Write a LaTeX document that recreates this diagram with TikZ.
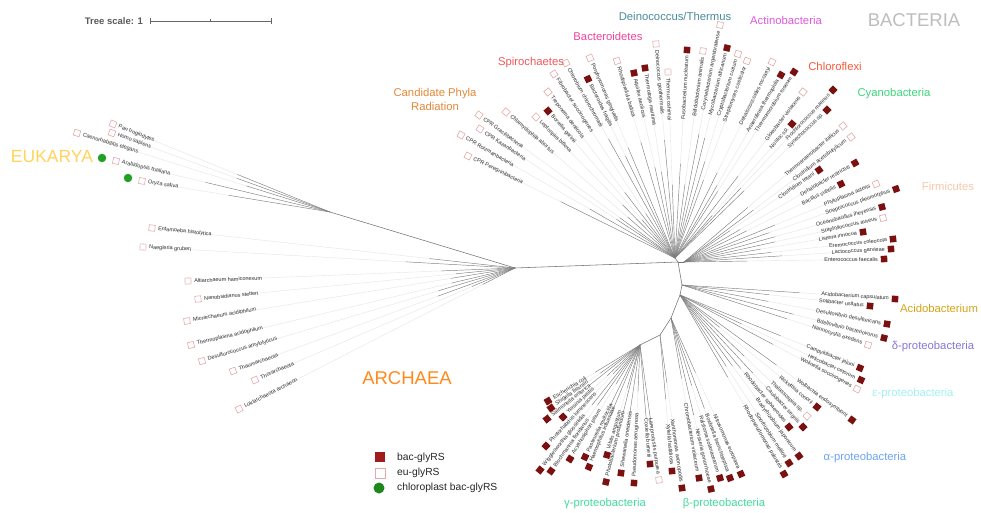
\documentclass[tikz,border=0pt]{standalone}
\usepackage{fontspec}
\setmainfont{Liberation Sans}
\usetikzlibrary{calc}
\definecolor{mkred}{HTML}{7B1010}
\definecolor{mkpink}{HTML}{E2AAAA}
\definecolor{lgred}{HTML}{A01B1B}
\definecolor{gdot}{HTML}{23A023}
\definecolor{cDein}{HTML}{4A8C9C}
\definecolor{cActi}{HTML}{DD5ADD}
\definecolor{cBact}{HTML}{BDBDBD}
\definecolor{cBacd}{HTML}{F0449A}
\definecolor{cSpir}{HTML}{F0585A}
\definecolor{cChlf}{HTML}{F55A3C}
\definecolor{cCyan}{HTML}{3CD67C}
\definecolor{cCPR}{HTML}{E3893A}
\definecolor{cFirm}{HTML}{F8C8A8}
\definecolor{cAcid}{HTML}{D4A418}
\definecolor{cDelt}{HTML}{8878D8}
\definecolor{cEps}{HTML}{A4F0F4}
\definecolor{cAlp}{HTML}{6FA4F4}
\definecolor{cBG}{HTML}{46DCA0}
\definecolor{cArch}{HTML}{FF8A1C}
\definecolor{cEuk}{HTML}{FFD45A}
\newcounter{lfc}
\newlength\lwid
\newcommand\lfnt{\fontsize{5.5}{6.2}\selectfont}
\newcommand\setfocus[5]{\def\fname{#1}\def\fx{#2}\def\fy{#3}\def\fbase{#4}\def\famp{#5}}
\newcommand\leaf[4]{%
  \stepcounter{lfc}%
  \pgfmathsetmacro\ldx{#1-\fx}%
  \pgfmathsetmacro\ldy{\fy-#2}%
  \pgfmathsetmacro\lang{atan2(\ldy,\ldx)}%
  \pgfmathsetmacro\ldist{veclen(\ldx,\ldy)}%
  \settowidth\lwid{\lfnt #4}%
  \pgfmathsetmacro\lrin{\ldist-7-\lwid}%
  \pgfmathsetmacro\lrnd{mod(#1*3+#2*7,20)/20}%
  \pgfmathsetmacro\lrd{\lrin*(\fbase+\famp*\lrnd)}%
  \pgfmathsetmacro\lrt{\ldist-6}%
  \pgfmathsetmacro\lc{cos(\lang)}%
  \pgfmathsetmacro\ls{sin(\lang)}%
  \coordinate (lb\arabic{lfc}) at ({\fx+\lrd*\lc},{\fy-\lrd*\ls});
  \coordinate (le\arabic{lfc}) at ({\fx+\lrin*\lc},{\fy-\lrin*\ls});
  \coordinate (lt\arabic{lfc}) at ({\fx+\lrt*\lc},{\fy-\lrt*\ls});
  \draw[faintline] (lb\arabic{lfc}) -- (le\arabic{lfc});
  \draw[branch] (\fname) -- (lb\arabic{lfc});
  \ifdim\lc pt<0pt
    \pgfmathsetmacro\lrot{\lang+180}%
    \node[leaflabel,rotate=\lrot,anchor=west] (ll\arabic{lfc}) at (lt\arabic{lfc}) {#4};
  \else
    \node[leaflabel,rotate=\lang,anchor=east] (ll\arabic{lfc}) at (lt\arabic{lfc}) {#4};
  \fi
  \node[mk#3,rotate=\lang] (lm\arabic{lfc}) at (#1,#2) {};
}
\begin{document}
\begin{tikzpicture}[x=1pt,y=-1pt,
  branch/.style={draw=black!50, line width=0.45pt},
  trunk/.style={draw=black!55, line width=0.55pt},
  faintline/.style={draw=black!10, line width=0.4pt},
  leaflabel/.style={font=\lfnt, text=black!80, inner sep=0pt},
  mkf/.style={rectangle, fill=mkred, minimum size=6.5pt, inner sep=0pt},
  mke/.style={rectangle, draw=mkpink, fill=white, line width=0.6pt, minimum size=6pt, inner sep=0pt},
  grp/.style={font=\fontsize{11.3}{13}\selectfont, inner sep=0pt},
  big/.style={font=\fontsize{18.5}{20}\selectfont, inner sep=0pt},
  gdotst/.style={circle, fill=gdot, minimum size=8.5pt, inner sep=0pt},
  lgtext/.style={font=\fontsize{10.3}{12}\selectfont, text=black!85, anchor=west, inner sep=0pt}]
\useasboundingbox (0,0) rectangle (981,513);
\fill[white] (0,0) rectangle (981,513);

% internal nodes
\coordinate (C) at (678,262);
\coordinate (J1) at (515,268);
\coordinate (EU) at (330,212);
\coordinate (TB) at (675,258);
\coordinate (FI) at (684,262);
\coordinate (AD) at (682,285);
\coordinate (AE) at (680,295);
\coordinate (BE) at (671,318);
\coordinate (XX) at (660,335);
\coordinate (GA) at (640,345);
\draw[trunk] (J1) -- (C);
\draw[trunk] (J1) -- (EU);
\draw[trunk] (C) -- (TB);
\draw[trunk] (C) -- (FI);
\draw[trunk] (C) -- (AD);
\draw[trunk] (AD) -- (AE);
\draw[trunk] (AE) -- (BE);
\draw[trunk] (BE) -- (XX);
\draw[trunk] (XX) -- (GA);

% Eukarya
\setfocus{EU}{330}{212}{0.3}{0.4}
\leaf{113}{124}{e}{Pan troglodytes}
\leaf{112}{133}{e}{Homo sapiens}
\leaf{77}{133}{e}{Caenorhabditis elegans}
\leaf{116}{161}{e}{Arabidopsis thaliana}
\leaf{142}{181}{e}{Oryza sativa}
\node[gdotst] (gd1) at (102,158) {};
\node[gdotst] (gd2) at (128,178) {};

% Protists and Archaea
\setfocus{J1}{515}{268}{0.12}{0.2}
\leaf{152}{228}{e}{Entamoeba histolytica}
\leaf{143}{247}{e}{Naegleria gruberi}
\leaf{188}{281}{e}{Altiarchaeum hamiconexum}
\leaf{198}{299}{e}{Nanobsidianus stetteri}
\leaf{187}{321}{e}{Micrarchaeum acidiphilum}
\leaf{191}{345}{e}{Thermoplasma acidophilum}
\leaf{202}{361}{e}{Desulfurococcus amylolyticus}
\leaf{233}{371}{e}{Thaumarchaeota}
\leaf{255}{380}{e}{Thorarchaeota}
\leaf{239}{409}{e}{Lokiarchaeota archaeon}

% Upper bacteria
\setfocus{TB}{675}{258}{0.25}{0.4}
\leaf{468}{156}{e}{CPR Peregrinibacteria}
\leaf{461}{135}{e}{CPR Roizmanbacteria}
\leaf{480}{129}{e}{CPR Kazanbacteria}
\leaf{479}{115}{e}{CPR Gracilibacteria}
\leaf{506}{112}{e}{Chlamydophila abortus}
\leaf{536}{117}{e}{Leptospira biflexa}
\leaf{548}{111}{f}{Borrelia garinii}
\leaf{548}{92}{e}{Treponema denticola}
\leaf{554}{74}{e}{Fibrobacter succinogenes}
\leaf{566}{63}{e}{Chlorobium chlorochromatii}
\leaf{588}{79}{f}{Bacteroides fragilis}
\leaf{590}{58}{e}{Porphyromonas gingivalis}
\leaf{617}{61}{e}{Rhodopirellula baltica}
\leaf{634}{73}{f}{Aquifex aeolicus}
\leaf{645}{68}{f}{Thermotoga maritima}
\leaf{656}{44}{e}{Deinococcus geothermalis}
\leaf{668}{72}{e}{Thermus oshimai}
\leaf{687}{50}{f}{Fusobacterium nucleatum}
\leaf{703}{51}{e}{Bifidobacterium animalis}
\leaf{720}{25}{e}{Corynebacterium argentoratense}
\leaf{727}{48}{f}{Mycobacterium africanum}
\leaf{738}{54}{e}{Cryptobacterium curtum}
\leaf{747}{61}{e}{Streptomyces coelicolor}
\leaf{772}{62}{e}{Dehalococcoides mccartyi}
\leaf{781}{75}{f}{Anaerolinea thermophila}
\leaf{794}{72}{f}{Thermomicrobium roseum}
\leaf{803}{92}{e}{Gloeobacter violaceus}
\leaf{792}{124}{f}{Nostoc sp.}
\leaf{833}{90}{f}{Prochlorococcus marinus}
\leaf{827}{110}{f}{Synechococcus sp.}

% Firmicutes
\setfocus{FI}{684}{262}{0.25}{0.3}
\leaf{843}{126}{e}{Thermoanaerobacter italicus}
\leaf{851}{137}{e}{Clostridium acetobutylicum}
\leaf{819}{170}{f}{Clostridium tetani}
\leaf{855}{163}{f}{Dehalobacter restrictus}
\leaf{841}{184}{f}{Bacillus subtilis}
\leaf{876}{184}{e}{Phytoplasma asteris}
\leaf{896}{189}{f}{Streptococcus pleomorphus}
\leaf{882}{207}{f}{Oceanobacillus iheyensis}
\leaf{883}{218}{e}{Staphylococcus aureus}
\leaf{863}{232}{f}{Listeria innocua}
\leaf{893}{239}{f}{Eremococcus coleocola}
\leaf{891}{249}{f}{Lactococcus garvieae}
\leaf{884}{259}{f}{Enterococcus faecalis}

% Acidobacteria and delta
\setfocus{AD}{682}{285}{0.3}{0.3}
\leaf{895}{299}{f}{Acidobacterium capsulatum}
\leaf{870}{306}{f}{Solibacter usitatus}
\leaf{887}{324}{f}{Desulfovibrio desulfuricans}
\leaf{884}{338}{f}{Bdellovibrio bacteriovorus}
\leaf{868}{345}{e}{Nannocystis exedens}

% epsilon and alpha
\setfocus{AE}{680}{295}{0.3}{0.35}
\leaf{860}{368}{f}{Campylobacter jejuni}
\leaf{861}{380}{f}{Helicobacter cetorum}
\leaf{857}{389}{e}{Wolinella succinogenes}
\leaf{852}{420}{f}{Wolbachia endosymbiont}
\leaf{817}{407}{f}{Rickettsia conorii}
\leaf{807}{416}{e}{Thalassospira sp.}
\leaf{803}{427}{f}{Caulobacter segnis}
\leaf{789}{427}{f}{Rhodobacter sphaeroides}
\leaf{799}{456}{f}{Bradyrhizobium japonicum}
\leaf{789}{463}{f}{Sinorhizobium meliloti}
\leaf{784}{474}{f}{Rhodopseudomonas palustris}

% beta
\setfocus{BE}{671}{318}{0.35}{0.3}
\leaf{741}{474}{f}{Nitrosomonas europaea}
\leaf{730}{478}{f}{Bordetella bronchiseptica}
\leaf{720}{478}{f}{Ralstonia solanacearum}
\leaf{711}{489}{f}{Neisseria gonorrhoeae}
\leaf{699}{478}{f}{Chromobacterium violaceum}

% Xanthomonadales
\setfocus{XX}{660}{335}{0.3}{0.3}
\leaf{682}{488}{f}{Xanthomonas axonopodis}
\leaf{672}{471}{f}{Xylella fastidiosa}

% gamma
\setfocus{GA}{640}{345}{0.3}{0.4}
\leaf{659}{480}{e}{Lamprocystis purpurea}
\leaf{650}{464}{f}{Coxiella burnetii}
\leaf{634}{483}{f}{Pseudomonas aeruginosa}
\leaf{621}{473}{f}{Shewanella oneidensis}
\leaf{606}{482}{f}{Photobacterium profundum}
\leaf{607}{455}{f}{Vibrio angustum}
\leaf{589}{467}{f}{Haemophilus influenzae}
\leaf{585}{457}{f}{Pasteurella multocida}
\leaf{570}{459}{f}{Acyrthosiphon pisum}
\leaf{551}{471}{f}{Blochmannia floridanus}
\leaf{540}{470}{f}{Wigglesworthia glossinidia}
\leaf{546}{446}{f}{Photorhabdus luminescens}
\leaf{563}{417}{f}{Yersinia pestis}
\leaf{547}{419}{f}{Salmonella enterica}
\leaf{551}{408}{f}{Shigella flexneri}
\leaf{548}{401}{f}{Escherichia coli}

% group labels
\node[grp, text=cDein] (gDein) at (675,16) {Deinococcus/Thermus};
\node[grp, text=cActi] (gActi) at (786,20) {Actinobacteria};
\node[big, text=cBact] (gBact) at (914,20) {BACTERIA};
\node[grp, text=cBacd] (gBacd) at (608,36) {Bacteroidetes};
\node[grp, text=cSpir] (gSpir) at (531,63) {Spirochaetes};
\node[grp, text=cChlf] (gChlf) at (835,66) {Chloroflexi};
\node[grp, text=cCyan] (gCyan) at (894,94) {Cyanobacteria};
\node[grp, text=cCPR, align=center, font=\fontsize{11.3}{14}\selectfont] (gCPR) at (435,99) {Candidate Phyla\\Radiation};
\node[grp, text=cFirm] (gFirm) at (948,186) {Firmicutes};
\node[grp, text=cAcid] (gAcid) at (939,308) {Acidobacterium};
\node[grp, text=cDelt] (gDelt) at (933,347) {δ-proteobacteria};
\node[grp, text=cEps] (gEps) at (913,394) {ε-proteobacteria};
\node[grp, text=cAlp] (gAlp) at (865,458) {α-proteobacteria};
\node[grp, text=cBG] (gBeta) at (724,504) {β-proteobacteria};
\node[grp, text=cBG] (gGamma) at (605,504) {γ-proteobacteria};
\node[big, text=cArch] (gArch) at (407,378) {ARCHAEA};
\node[big, text=cEuk, font=\fontsize{17.5}{19}\selectfont] (gEuk) at (52,157) {EUKARYA};

% tree scale
\node[font=\bfseries\fontsize{9.5}{11}\selectfont, text=black!65, anchor=east, inner sep=0pt] (tsl) at (143,21) {Tree scale: 1};
\coordinate (s0) at (150,21);
\coordinate (s1) at (271,21);
\coordinate (sm) at (210.5,21);
\draw[black!60, line width=0.6pt] (s0) -- (s1);
\draw[black!60, line width=0.6pt] ($(s0)+(0,-3)$) -- ($(s0)+(0,3)$);
\draw[black!60, line width=0.6pt] ($(s1)+(0,-3)$) -- ($(s1)+(0,3)$);
\draw[black!60, line width=0.6pt] ($(sm)+(0,-1.5)$) -- ($(sm)+(0,1.5)$);

% legend
\node[rectangle, fill=lgred, minimum size=10.5pt, inner sep=0pt] (lg1) at (380,457) {};
\node[rectangle, draw=mkpink, fill=white, line width=0.7pt, minimum size=10pt, inner sep=0pt] (lg2) at (380,473) {};
\node[circle, fill=gdot!85!black, minimum size=11pt, inner sep=0pt] (lg3) at (379,488) {};
\node[lgtext] (lt1) at (397,458) {bac-glyRS};
\node[lgtext] (lt2) at (397,473) {eu-glyRS};
\node[lgtext] (lt3) at (397,488) {chloroplast bac-glyRS};
\end{tikzpicture}
\end{document}
